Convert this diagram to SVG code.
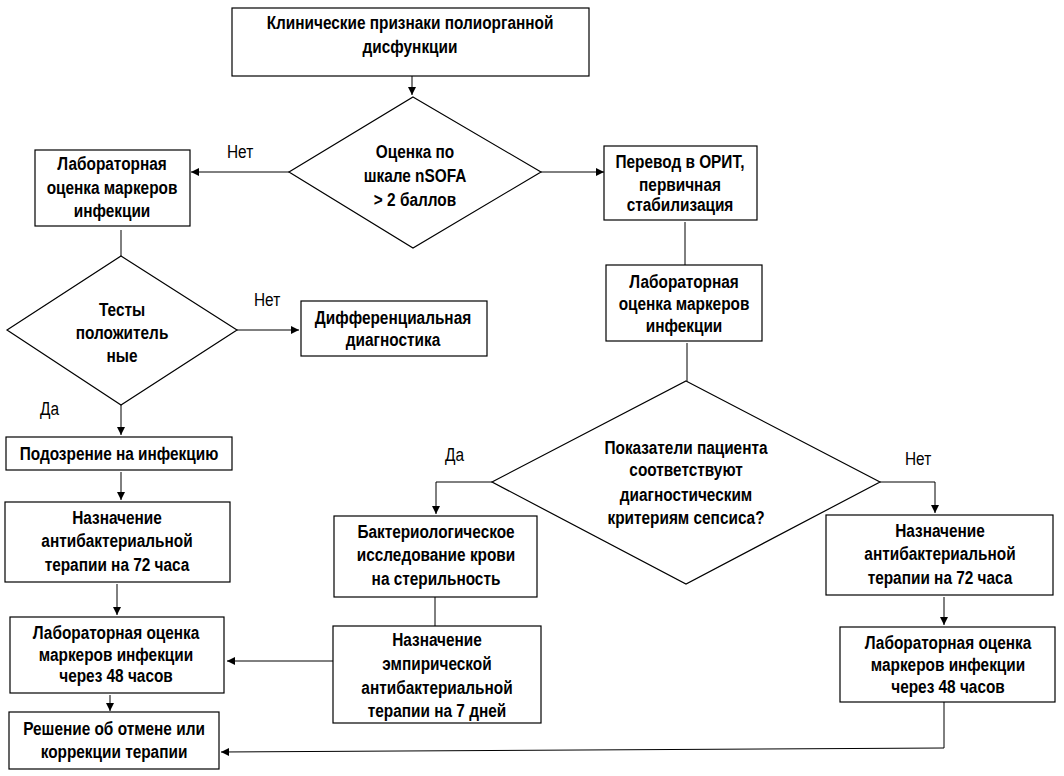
<svg xmlns="http://www.w3.org/2000/svg" width="1064" height="776" viewBox="0 0 1064 776">
<defs>
<style>
.n{fill:#fff;stroke:#000;stroke-width:1.2}
.t{font-family:"Liberation Sans",Arial,sans-serif;font-weight:bold;font-size:19px;text-anchor:middle;fill:#000}
.l{font-family:"Liberation Sans",Arial,sans-serif;font-size:19px;fill:#000}
.c{fill:none;stroke:#000;stroke-width:1}
</style>
<marker id="a" markerUnits="userSpaceOnUse" markerWidth="9" markerHeight="9" refX="8" refY="4" orient="auto"><path d="M0,0 L8,4 L0,8 z" fill="#000"/></marker>
</defs>
<rect width="1064" height="776" fill="#fff"/>
<g id="connectors">
<path class="c" d="M412,76 V95" marker-end="url(#a)"/>
<path class="c" d="M289,172 H191" marker-end="url(#a)"/>
<path class="c" d="M541,172 H604" marker-end="url(#a)"/>
<path class="c" d="M121,230 V256"/>
<path class="c" d="M237,330 H299" marker-end="url(#a)"/>
<path class="c" d="M121,405 V435" marker-end="url(#a)"/>
<path class="c" d="M121,472 V500" marker-end="url(#a)"/>
<path class="c" d="M117,584 V615" marker-end="url(#a)"/>
<path class="c" d="M110,695 V711" marker-end="url(#a)"/>
<path class="c" d="M685,222 V265"/>
<path class="c" d="M687,343 V381"/>
<path class="c" d="M492,482 H436 V514" marker-end="url(#a)"/>
<path class="c" d="M435,597 V626"/>
<path class="c" d="M333,661 H227" marker-end="url(#a)"/>
<path class="c" d="M880,482 H935 V513" marker-end="url(#a)"/>
<path class="c" d="M944,597 V625" marker-end="url(#a)"/>
<path class="c" d="M944,702 V748 L221,752" marker-end="url(#a)"/>
</g>
<g id="labels">
<text class="l" transform="translate(227,158) scale(.81,1)">Нет</text>
<text class="l" transform="translate(254,306) scale(.81,1)">Нет</text>
<text class="l" transform="translate(40,415) scale(.81,1)">Да</text>
<text class="l" transform="translate(445,461) scale(.81,1)">Да</text>
<text class="l" transform="translate(905,465) scale(.81,1)">Нет</text>
</g>
<g id="n1"><rect class="n" x="232" y="8" width="357" height="68"/>
<text class="t" transform="translate(410,29) scale(.81,1)">Клинические признаки полиорганной</text>
<text class="t" transform="translate(410,53) scale(.81,1)">дисфункции</text></g>
<g id="n2"><polygon class="n" points="413,97 541,172 413,248 289,172"/>
<text class="t" transform="translate(415,158) scale(.81,1)">Оценка по</text>
<text class="t" transform="translate(415,182) scale(.81,1)">шкале nSOFA</text>
<text class="t" transform="translate(415,206) scale(.81,1)">&gt; 2 баллов</text></g>
<g id="n3"><rect class="n" x="35" y="150" width="155" height="76"/>
<text class="t" transform="translate(112,170) scale(.81,1)">Лабораторная</text>
<text class="t" transform="translate(112,194) scale(.81,1)">оценка маркеров</text>
<text class="t" transform="translate(112,217) scale(.81,1)">инфекции</text></g>
<g id="n4"><rect class="n" x="604" y="146" width="153" height="74"/>
<text class="t" transform="translate(680,168) scale(.81,1)">Перевод в ОРИТ,</text>
<text class="t" transform="translate(680,191) scale(.81,1)">первичная</text>
<text class="t" transform="translate(680,211) scale(.81,1)">стабилизация</text></g>
<g id="n5"><polygon class="n" points="121,256 237,330 121,405 7,330"/>
<text class="t" transform="translate(122,316) scale(.81,1)">Тесты</text>
<text class="t" transform="translate(122,339) scale(.81,1)">положитель</text>
<text class="t" transform="translate(122,362) scale(.81,1)">ные</text></g>
<g id="n6"><rect class="n" x="301" y="301" width="186" height="55"/>
<text class="t" transform="translate(393,324) scale(.81,1)">Дифференциальная</text>
<text class="t" transform="translate(393,346) scale(.81,1)">диагностика</text></g>
<g id="n7"><rect class="n" x="6" y="437" width="226" height="33"/>
<text class="t" transform="translate(119,460) scale(.81,1)">Подозрение на инфекцию</text></g>
<g id="n8"><rect class="n" x="5" y="502" width="225" height="80"/>
<text class="t" transform="translate(117,524) scale(.81,1)">Назначение</text>
<text class="t" transform="translate(117,547) scale(.81,1)">антибактериальной</text>
<text class="t" transform="translate(117,571) scale(.81,1)">терапии на 72 часа</text></g>
<g id="n9"><rect class="n" x="10" y="617" width="214" height="76"/>
<text class="t" transform="translate(116,639) scale(.81,1)">Лабораторная оценка</text>
<text class="t" transform="translate(116,661) scale(.81,1)">маркеров инфекции</text>
<text class="t" transform="translate(116,682) scale(.81,1)">через 48 часов</text></g>
<g id="n10"><rect class="n" x="9" y="712" width="210" height="57"/>
<text class="t" transform="translate(114,735) scale(.81,1)">Решение об отмене или</text>
<text class="t" transform="translate(114,758) scale(.81,1)">коррекции терапии</text></g>
<g id="n11"><rect class="n" x="606" y="265" width="156" height="76"/>
<text class="t" transform="translate(684,288) scale(.81,1)">Лабораторная</text>
<text class="t" transform="translate(684,310) scale(.81,1)">оценка маркеров</text>
<text class="t" transform="translate(684,332) scale(.81,1)">инфекции</text></g>
<g id="n12"><polygon class="n" points="686,381 880,482 686,584 492,482"/>
<text class="t" transform="translate(686,454) scale(.81,1)">Показатели пациента</text>
<text class="t" transform="translate(686,476) scale(.81,1)">соответствуют</text>
<text class="t" transform="translate(686,501) scale(.81,1)">диагностическим</text>
<text class="t" transform="translate(686,524) scale(.81,1)">критериям сепсиса?</text></g>
<g id="n13"><rect class="n" x="334" y="516" width="203" height="81"/>
<text class="t" transform="translate(436,538) scale(.81,1)">Бактериологическое</text>
<text class="t" transform="translate(436,561) scale(.81,1)">исследование крови</text>
<text class="t" transform="translate(436,585) scale(.81,1)">на стерильность</text></g>
<g id="n14"><rect class="n" x="333" y="626" width="208" height="97"/>
<text class="t" transform="translate(437,646) scale(.81,1)">Назначение</text>
<text class="t" transform="translate(437,670) scale(.81,1)">эмпирической</text>
<text class="t" transform="translate(437,694) scale(.81,1)">антибактериальной</text>
<text class="t" transform="translate(437,717) scale(.81,1)">терапии на 7 дней</text></g>
<g id="n15"><rect class="n" x="826" y="515" width="227" height="80"/>
<text class="t" transform="translate(940,537) scale(.81,1)">Назначение</text>
<text class="t" transform="translate(940,560) scale(.81,1)">антибактериальной</text>
<text class="t" transform="translate(940,584) scale(.81,1)">терапии на 72 часа</text></g>
<g id="n16"><rect class="n" x="840" y="627" width="215" height="75"/>
<text class="t" transform="translate(948,649) scale(.81,1)">Лабораторная оценка</text>
<text class="t" transform="translate(948,671) scale(.81,1)">маркеров инфекции</text>
<text class="t" transform="translate(948,693) scale(.81,1)">через 48 часов</text></g>
</svg>
